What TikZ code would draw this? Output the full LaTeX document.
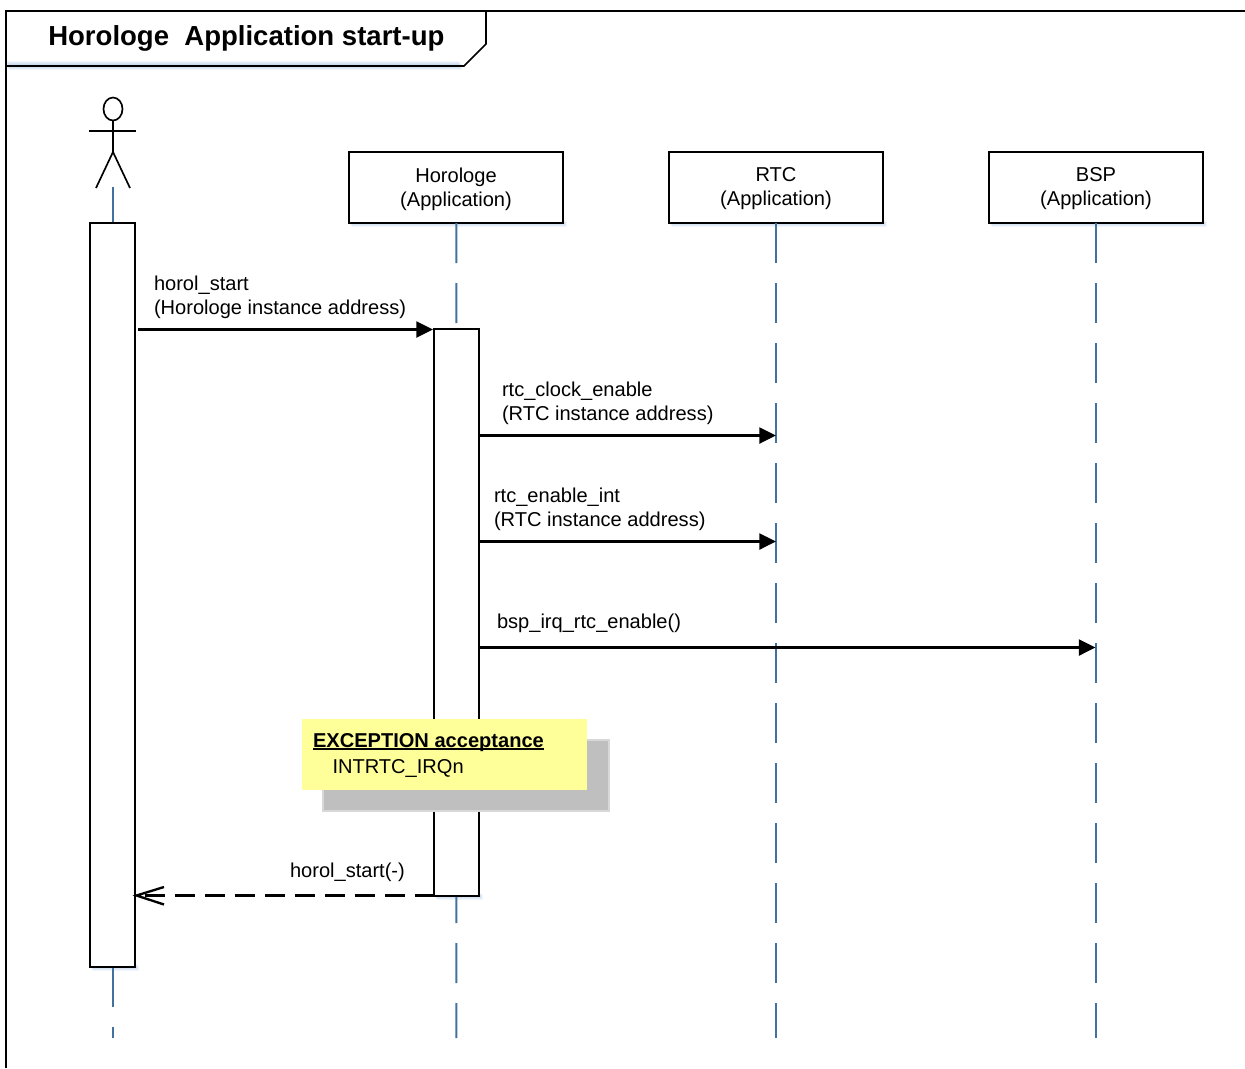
\documentclass[tikz,border=0pt]{standalone}
\usepackage{fontspec}
\setmainfont{Liberation Sans}
\usetikzlibrary{arrows.meta,positioning}
\definecolor{lifeblue}{HTML}{41719C}
\definecolor{softblue}{HTML}{5B8FC9}
\definecolor{noteyellow}{HTML}{FFFF99}
\definecolor{notegray}{HTML}{BFBFBF}
\tikzset{
  line/.style={draw=black,line width=1.25pt},
  box/.style={line,fill=white,rectangle,inner sep=0pt,outer sep=0pt},
  participant/.style={box,minimum width=160.5pt,minimum height=53.25pt},
  activation/.style={box,minimum width=33.75pt},
  lifeline/.style={draw=lifeblue,line width=1.6pt,dash pattern=on 30pt off 15pt},
  msg/.style={draw=black,line width=1.75pt,-{Triangle[length=12.5pt,width=12pt]}},
  reply/.style={draw=black,line width=1.75pt,dash pattern=on 15pt off 7.5pt,dash phase=16.1pt},
  replyhead/.style={draw=black,line width=1.75pt},
  label/.style={inner sep=0pt,outer sep=0pt,anchor=north west,align=left,font=\fontsize{15.05}{18}\selectfont},
  softshadow/.style={fill=softblue,fill opacity=0.09,draw=none},
}
\newcommand{\softrect}[4]{%
  \foreach \d in {1,2,3,4}{\fill[softshadow] (#1+\d-1,#2+\d) rectangle (#3+\d,#4+\d);}%
}
\begin{document}
\begin{tikzpicture}[x=0.75pt,y=-0.75pt]
\useasboundingbox (0,0) rectangle (1245,1068);
% frame
\softrect{6}{60}{458}{66}
\draw[line] (6,1068) -- (6,11) -- (1245,11);
\node[inner sep=0pt,anchor=base west,font=\fontsize{20.65}{25}\selectfont\bfseries] (title) at (48,45) {Horologe\ \ Application start-up};
\coordinate (tA) at (486,11);
\coordinate (tB) at (486,44);
\coordinate (tC) at (464,66);
\coordinate (tD) at (6,66);
\draw[line] (tA) -- (tB) -- (tC) -- (tD);
% actor
\coordinate (head) at (113,109);
\coordinate (neck) at (113,120.5);
\coordinate (hip) at (113,152);
\coordinate (armL) at (89,131);
\coordinate (armR) at (136,131);
\coordinate (legL) at (96,188);
\coordinate (legR) at (130,188);
\draw[line] (head) ellipse [x radius=9.5,y radius=11.5];
\draw[line] (neck) -- (hip);
\draw[line] (armL) -- (armR);
\draw[line] (legL) -- (hip) -- (legR);
% lifelines
\coordinate (actorTop) at (113.4,187);
\coordinate (actorEnd) at (113.4,1038);
\coordinate (horEnd) at (456.4,1038);
\coordinate (rtcEnd) at (775.6,1038);
\coordinate (bspEnd) at (1095.6,1038);
\softrect{349}{218}{563}{223}
\softrect{669}{218}{883}{223}
\softrect{989}{218}{1203}{223}
\node[participant] (hor) at (456,187.5) {};
\node[participant] (rtc) at (776,187.5) {};
\node[participant] (bsp) at (1096,187.5) {};
\node[label,anchor=center,align=center] (horT) at (456,189) {Horologe\\(Application)};
\node[label,anchor=center,align=center] (rtcT) at (776,189) {RTC\\(Application)};
\node[label,anchor=center,align=center] (bspT) at (1096,189) {BSP\\(Application)};
\draw[lifeline] ([xshift=0.3pt]hor.south) -- (horEnd);
\draw[lifeline] ([xshift=-0.3pt]rtc.south) -- (rtcEnd);
\draw[lifeline] ([xshift=-0.3pt]bsp.south) -- (bspEnd);
\draw[lifeline] (actorTop) -- (actorEnd);
% activations
\softrect{90}{962}{135}{967}
\softrect{434}{891}{479}{896}
\node[activation,minimum height=558pt] (actA) at (112.5,595) {};
\node[activation,minimum height=425.25pt] (actB) at (456.5,612.5) {};
% messages
\coordinate (m1s) at (138,329.5);
\coordinate (m1e) at (433,329.5);
\coordinate (m2s) at (480,435.5);
\coordinate (m2e) at (776,435.5);
\coordinate (m3s) at (480,541.5);
\coordinate (m3e) at (776,541.5);
\coordinate (m4s) at (480,647.5);
\coordinate (m4e) at (1095.5,647.5);
\coordinate (rs) at (136.5,895.5);
\coordinate (re) at (434,895.5);
\coordinate (rb1) at (164,887);
\coordinate (rb2) at (164,904.5);
\draw[msg] (m1s) -- (m1e);
\draw[msg] (m2s) -- (m2e);
\draw[msg] (m3s) -- (m3e);
\draw[msg] (m4s) -- (m4e);
\draw[reply] (rs) -- (re);
\draw[replyhead] (rb1) -- (rs) -- (rb2);
% labels
\node[label] (l1) at (154,276) {horol\_start\\(Horologe instance address)};
\node[label] (l2) at (502,382) {rtc\_clock\_enable\\(RTC instance address)};
\node[label] (l3) at (494,488) {rtc\_enable\_int\\(RTC instance address)};
\node[label] (l4) at (497,614) {bsp\_irq\_rtc\_enable()};
\node[label] (l5) at (290,863) {horol\_start(-)};
% note
\draw[notegray!60,line width=1pt,fill=notegray] (323,740) rectangle (609,811);
\fill[noteyellow] (302,719) rectangle (587,790);
\node[label,font=\fontsize{15.05}{18}\selectfont\bfseries] (n1) at (313,733) {EXCEPTION acceptance};
\draw[black,line width=1.3pt] ([yshift=-1.6pt]n1.base west) -- ([yshift=-1.6pt]n1.base east);
\node[label] (n2) at (332.5,759) {INTRTC\_IRQn};
\end{tikzpicture}
\end{document}
